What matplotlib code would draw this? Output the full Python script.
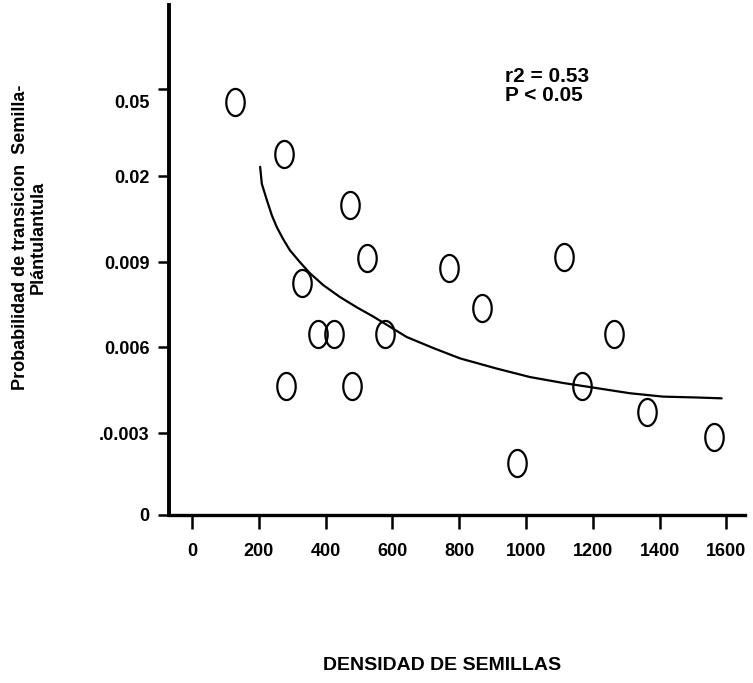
import matplotlib
matplotlib.use("Agg")
import matplotlib.pyplot as plt
import matplotlib.transforms as mtransforms
from matplotlib.path import Path
import numpy as np

# ---- data ----
# x: seed density; y: position on the ordinal probability axis (tick index units)
seed_density = [129, 275, 473, 524, 329, 377, 425, 578, 281, 479,
                769, 868, 1114, 1263, 1168, 1362, 1563, 973]
prob_pos = [4.85, 4.24, 3.64, 3.02, 2.72, 2.12, 2.12, 2.12, 1.51, 1.51,
            2.90, 2.43, 3.03, 2.12, 1.51, 1.21, 0.92, 0.61]

# fitted curve
curve_x = [204, 209, 224, 239, 254, 273, 293, 323, 353, 393, 443, 493, 543, 593,
           643, 723, 802, 912, 1012, 1112, 1212, 1311, 1411, 1511, 1586]
curve_y = [4.09, 3.89, 3.70, 3.52, 3.38, 3.24, 3.11, 2.97, 2.84, 2.70, 2.56, 2.44,
           2.33, 2.21, 2.09, 1.96, 1.84, 1.72, 1.62, 1.55, 1.49, 1.43, 1.39, 1.38, 1.37]

x_ticks = [0, 200, 400, 600, 800, 1000, 1200, 1400, 1600]
y_tick_pos = [0, 0.96, 1.97, 2.97, 3.98, 5.0]
y_tick_labels = ["0", ".0.003", "0.006", "0.009", "0.02", "0.05"]

plt.rcParams["font.family"] = ["Liberation Sans", "DejaVu Sans"]

fig = plt.figure(figsize=(7.53, 6.83), dpi=100)
ax = fig.add_axes([0.2244, 0.246, 0.765, 0.7467])

# ellipse marker (taller than wide)
t = np.linspace(0, 2 * np.pi, 60)
ell = Path(np.column_stack([0.34 * np.cos(t), 0.5 * np.sin(t)]), closed=True)

ax.plot(curve_x, curve_y, color="black", lw=1.6, solid_capstyle="round",
        solid_joinstyle="round")
ax.plot(seed_density, prob_pos, linestyle="none", marker=ell, markersize=19.5,
        markerfacecolor="none", markeredgecolor="black", markeredgewidth=1.6)

ax.set_xlim(-69, 1656)
ax.set_ylim(0, 5.99)

for s in ["top", "right"]:
    ax.spines[s].set_visible(False)
ax.spines["left"].set_linewidth(2.8)
ax.spines["bottom"].set_linewidth(2.4)

ax.set_xticks(x_ticks)
ax.set_xticklabels([str(v) for v in x_ticks])
ax.set_yticks(y_tick_pos)
ax.set_yticklabels(y_tick_labels)

fs = 13
ax.tick_params(axis="x", length=10, width=1.8, pad=10, labelsize=fs, direction="out")
ax.tick_params(axis="y", length=8, width=1.8, pad=6, labelsize=fs, direction="out")
for lab in ax.get_xticklabels() + ax.get_yticklabels():
    lab.set_fontweight("bold")

# the top label sits slightly below its tick in the original
lab05 = ax.get_yticklabels()[-1]
lab05.set_transform(lab05.get_transform() + mtransforms.ScaledTranslation(0, -12 / 100, fig.dpi_scale_trans))

fig.text(0.039, 0.653, "Probabilidad de transicion  Semilla-\nPlántulantula",
         rotation=90, ha="center", va="center", fontsize=fs, fontweight="bold",
         multialignment="center", linespacing=1.05)

fig.text(0.587, 0.026, "DENSIDAD DE SEMILLAS", ha="center", va="center",
         fontsize=fs + 1, fontweight="bold")

fig.text(0.671, 0.874, "r2 = 0.53\nP < 0.05", ha="left", va="center",
         fontsize=fs + 2, fontweight="bold", linespacing=1.0)

fig.savefig("out.png", dpi=100)
